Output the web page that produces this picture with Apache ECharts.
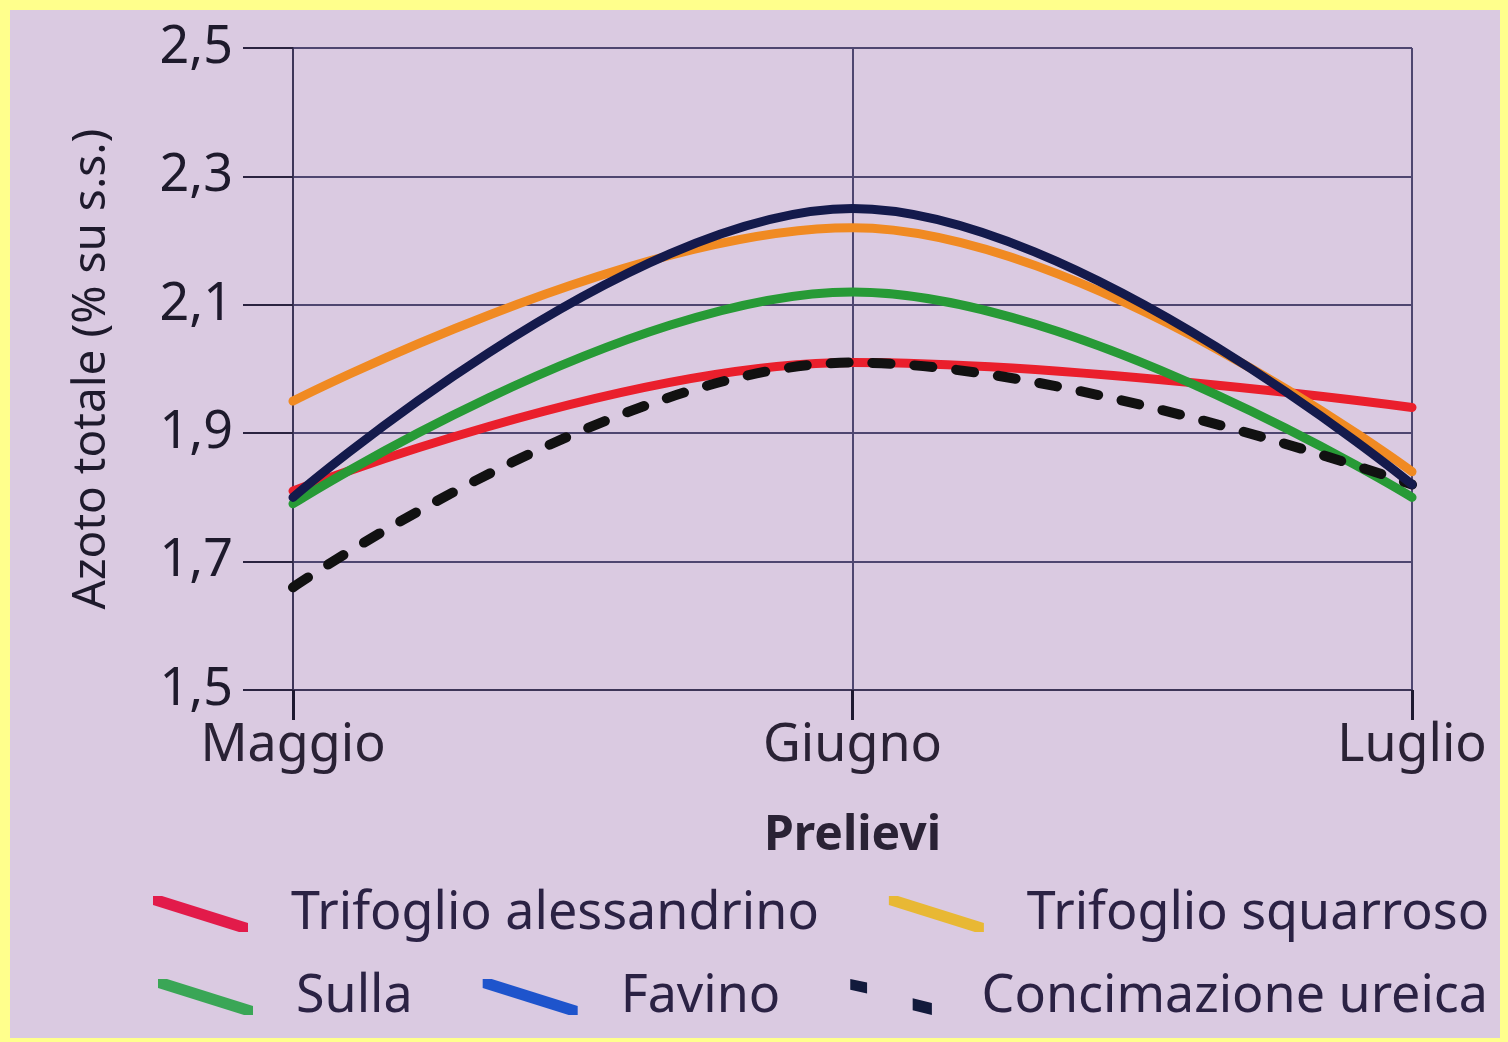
<!DOCTYPE html>
<html>
<head>
<meta charset="utf-8">
<script src="https://cdn.jsdelivr.net/npm/echarts@6/dist/echarts.min.js"></script>
<style>
  html, body { margin: 0; padding: 0; background: #ffff8c; }
  #chart { position: absolute; left: 10px; top: 10px; width: 1490px; height: 1028px; background: #dacae1; }
</style>
</head>
<body>
<div id="chart"></div>
<script>
// prelievi (x categories)
const months = ['Maggio', 'Giugno', 'Luglio']
// azoto totale, % su s.s.
const alessandrino = [1.81, 2.01, 1.94]
const squarroso = [1.95, 2.22, 1.84]
const sulla = [1.79, 2.12, 1.80]
const favino = [1.80, 2.25, 1.82]
const ureica = [1.66, 2.01, 1.82]

const yTicks = { min: 1.5, max: 2.5, step: 0.2 }

const chart = echarts.init(document.getElementById('chart'))
const font = "'Noto Sans', sans-serif"
// slanted stroke like the printed legend keys
const slash = 'path://M0,0 L9,0 L95,27 L95,36 L86,36 L0,9 Z'
const dots = 'path://M0,0 L14,3 L14,12 L0,9 Z M52,16 L68,20 L68,30 L52,26 Z'

function line (name, data, color, extra) {
  return Object.assign({
    name: name,
    type: 'line',
    smooth: 0.4,
    symbol: 'none',
    data: data,
    lineStyle: { color: color, width: 9, cap: 'round' },
    itemStyle: { color: color },
    z: 3
  }, extra || {})
}

const legendText = { color: '#2b2244', fontSize: 52, fontFamily: font, padding: [0, 0, 0, 38] }

const option = {
  animation: false,
  grid: { left: 283, right: 88, top: 38, bottom: 348 },
  xAxis: {
    type: 'category',
    data: months,
    boundaryGap: false,
    name: 'Prelievi',
    nameLocation: 'middle',
    nameGap: 122,
    nameTextStyle: { color: '#2a2235', fontSize: 48, fontWeight: 'bold', fontFamily: font },
    axisLine: { lineStyle: { color: '#3d3558', width: 2 } },
    axisTick: { length: 30, lineStyle: { color: '#1d1830', width: 3 } },
    axisLabel: { color: '#2a2235', fontSize: 52, fontFamily: font, margin: 30 },
    splitLine: { show: true, lineStyle: { color: '#4e4670', width: 2 } }
  },
  yAxis: {
    type: 'value',
    min: yTicks.min,
    max: yTicks.max,
    interval: yTicks.step,
    name: 'Azoto totale (% su s.s.)',
    nameLocation: 'middle',
    nameRotate: 90,
    nameGap: 178,
    nameTextStyle: { color: '#1e1a2c', fontSize: 46, fontFamily: font },
    axisLine: { show: true, lineStyle: { color: '#3d3558', width: 2 } },
    axisTick: { show: true, length: 50, lineStyle: { color: '#2a2340', width: 2 } },
    axisLabel: {
      color: '#1e1a2c', fontSize: 52, fontFamily: font, margin: 60,
      formatter: v => v.toFixed(1).replace('.', ',')
    },
    splitLine: { lineStyle: { color: '#4e4670', width: 2 } }
  },
  legend: [
    {
      left: 138, top: 873, itemGap: 70, itemWidth: 95, itemHeight: 36,
      textStyle: legendText,
      data: [
        { name: 'Trifoglio alessandrino', icon: slash, itemStyle: { color: '#e21b4a' } },
        { name: 'Trifoglio squarroso', icon: slash, itemStyle: { color: '#e8b834' } }
      ]
    },
    {
      left: 143, top: 956, itemGap: 70, itemWidth: 95, itemHeight: 36,
      textStyle: legendText,
      data: [
        { name: 'Sulla', icon: slash, itemStyle: { color: '#3aa656' } },
        { name: 'Favino', icon: slash, itemStyle: { color: '#1e54cc' } },
        { name: 'Concimazione ureica', icon: dots, itemStyle: { color: '#121a3c' } }
      ]
    }
  ],
  series: [
    line('Trifoglio alessandrino', alessandrino, '#ea1f2c'),
    line('Trifoglio squarroso', squarroso, '#f08a22'),
    line('Sulla', sulla, '#279a36'),
    line('Concimazione ureica', ureica, '#111111', {
      lineStyle: { color: '#111111', width: 10, type: [18, 24], cap: 'round' }
    }),
    line('Favino', favino, '#141a4c')
  ]
}

chart.setOption(option)
</script>
</body>
</html>
